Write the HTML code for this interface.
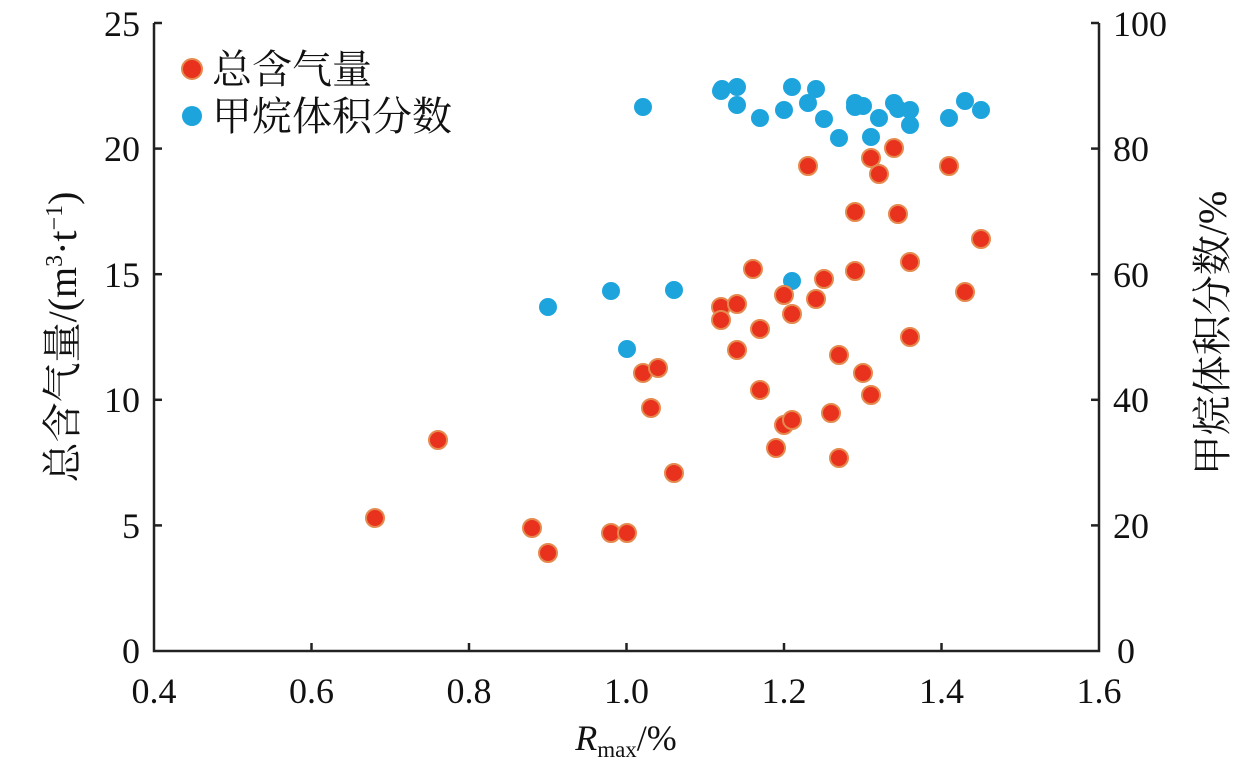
<!DOCTYPE html>
<html><head><meta charset="utf-8"><style>body{margin:0;background:#fff}</style></head><body>
<svg width="1259" height="769" xmlns="http://www.w3.org/2000/svg" font-family="'Liberation Serif','Noto Serif CJK SC',serif" fill="#111">
<g stroke="#222" stroke-width="2.5" fill="none">
<polyline points="154,23 154,651 1099,651 1099,23"/>
<line x1="154" y1="23" x2="162" y2="23"/><line x1="154" y1="148.6" x2="162" y2="148.6"/><line x1="154" y1="274.2" x2="162" y2="274.2"/><line x1="154" y1="399.8" x2="162" y2="399.8"/><line x1="154" y1="525.4" x2="162" y2="525.4"/>
<line x1="1099" y1="23" x2="1091" y2="23"/><line x1="1099" y1="148.6" x2="1091" y2="148.6"/><line x1="1099" y1="274.2" x2="1091" y2="274.2"/><line x1="1099" y1="399.8" x2="1091" y2="399.8"/><line x1="1099" y1="525.4" x2="1091" y2="525.4"/>
<line x1="311.5" y1="651" x2="311.5" y2="643"/><line x1="469" y1="651" x2="469" y2="643"/><line x1="626.5" y1="651" x2="626.5" y2="643"/><line x1="784" y1="651" x2="784" y2="643"/><line x1="941.5" y1="651" x2="941.5" y2="643"/>
</g>
<g font-size="36" text-anchor="end">
<text x="140" y="36">25</text><text x="140" y="161">20</text><text x="140" y="287">15</text><text x="140" y="412">10</text><text x="140" y="538">5</text><text x="140" y="663">0</text>
</g>
<g font-size="36" text-anchor="start">
<text x="1113" y="36">100</text><text x="1113" y="161">80</text><text x="1113" y="287">60</text><text x="1113" y="412">40</text><text x="1113" y="538">20</text><text x="1117" y="663">0</text>
</g>
<g font-size="36" text-anchor="middle">
<text x="154" y="703">0.4</text><text x="311.5" y="703">0.6</text><text x="469" y="703">0.8</text><text x="626.5" y="703">1.0</text><text x="784" y="703">1.2</text><text x="941.5" y="703">1.4</text><text x="1099" y="703">1.6</text>
</g>
<text x="626" y="750" font-size="36" text-anchor="middle"><tspan font-style="italic">R</tspan><tspan font-size="23" dy="7">max</tspan><tspan dy="-7">/%</tspan></text>
<text transform="translate(76,337) rotate(-90)" font-size="40" text-anchor="middle">总含气量/(m<tspan font-size="24" dy="-14">3</tspan><tspan dy="14">·t</tspan><tspan font-size="24" dy="-14">−1</tspan><tspan dy="14">)</tspan></text>
<text transform="translate(1226,333) rotate(-90)" font-size="40" text-anchor="middle">甲烷体积分数/%</text>
<circle cx="192" cy="69" r="10" fill="#e8321e" stroke="#e58a4f" stroke-width="2"/>
<text x="212" y="83" font-size="40">总含气量</text>
<circle cx="192" cy="116" r="10" fill="#1ea4dc"/>
<text x="212" y="130" font-size="40">甲烷体积分数</text>
<g fill="#1ea4dc">
<circle cx="643" cy="107" r="9"/><circle cx="721" cy="91" r="9"/><circle cx="722" cy="89" r="9"/><circle cx="737" cy="87" r="9"/><circle cx="737" cy="105" r="9"/><circle cx="760" cy="118" r="9"/><circle cx="784" cy="110" r="9"/><circle cx="792" cy="87" r="9"/><circle cx="808" cy="103" r="9"/><circle cx="816" cy="89" r="9"/><circle cx="824" cy="119" r="9"/><circle cx="839" cy="138" r="9"/><circle cx="855" cy="103" r="9"/><circle cx="855" cy="107" r="9"/><circle cx="863" cy="106" r="9"/><circle cx="871" cy="137" r="9"/><circle cx="879" cy="118" r="9"/><circle cx="894" cy="103" r="9"/><circle cx="898" cy="109" r="9"/><circle cx="910" cy="110" r="9"/><circle cx="910" cy="125" r="9"/><circle cx="949" cy="118" r="9"/><circle cx="965" cy="101" r="9"/><circle cx="981" cy="110" r="9"/><circle cx="548" cy="307" r="9"/><circle cx="611" cy="291" r="9"/><circle cx="627" cy="349" r="9"/><circle cx="674" cy="290" r="9"/><circle cx="792" cy="281" r="9"/>
</g>
<g fill="#e8321e" stroke="#e58a4f" stroke-width="2">
<circle cx="375" cy="518" r="9"/><circle cx="438" cy="440" r="9"/><circle cx="532" cy="528" r="9"/><circle cx="548" cy="553" r="9"/><circle cx="611" cy="533" r="9"/><circle cx="627" cy="533" r="9"/><circle cx="643" cy="373" r="9"/><circle cx="658" cy="368" r="9"/><circle cx="651" cy="408" r="9"/><circle cx="674" cy="473" r="9"/><circle cx="721" cy="307" r="9"/><circle cx="721" cy="320" r="9"/><circle cx="737" cy="304" r="9"/><circle cx="737" cy="350" r="9"/><circle cx="753" cy="269" r="9"/><circle cx="760" cy="329" r="9"/><circle cx="760" cy="390" r="9"/><circle cx="776" cy="448" r="9"/><circle cx="784" cy="295" r="9"/><circle cx="784" cy="425" r="9"/><circle cx="792" cy="420" r="9"/><circle cx="792" cy="314" r="9"/><circle cx="808" cy="166" r="9"/><circle cx="816" cy="299" r="9"/><circle cx="824" cy="279" r="9"/><circle cx="831" cy="413" r="9"/><circle cx="839" cy="355" r="9"/><circle cx="839" cy="458" r="9"/><circle cx="855" cy="212" r="9"/><circle cx="855" cy="271" r="9"/><circle cx="863" cy="373" r="9"/><circle cx="871" cy="158" r="9"/><circle cx="871" cy="395" r="9"/><circle cx="879" cy="174" r="9"/><circle cx="894" cy="148" r="9"/><circle cx="898" cy="214" r="9"/><circle cx="910" cy="262" r="9"/><circle cx="910" cy="337" r="9"/><circle cx="949" cy="166" r="9"/><circle cx="965" cy="292" r="9"/><circle cx="981" cy="239" r="9"/>
</g>
</svg>
</body></html>
